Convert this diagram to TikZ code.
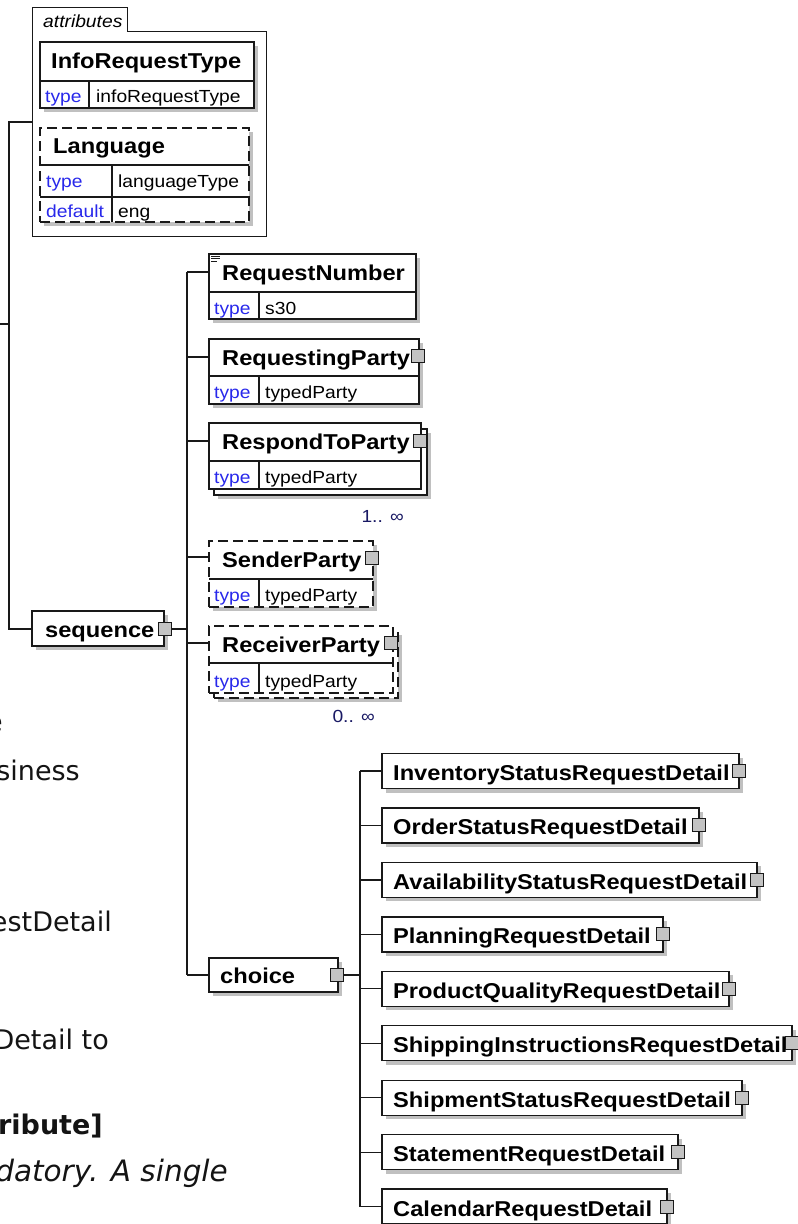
\documentclass[tikz,border=0pt]{standalone}
\usepackage{fontspec}
\usetikzlibrary{shadows}
\newfontfamily\lib[FakeStretch=1.1]{Liberation Sans}
\newfontfamily\dvs{DejaVu Sans}
\definecolor{lc}{RGB}{25,25,25}
\definecolor{shc}{RGB}{192,192,192}
\definecolor{tb}{RGB}{40,40,235}
\definecolor{nv}{RGB}{25,25,100}
\definecolor{icg}{RGB}{195,195,195}
\definecolor{bgt}{RGB}{20,20,20}
\newcommand\ttlf{\lib\bfseries\fontsize{21.5}{24}\selectfont}
\newcommand\smf{\lib\fontsize{17.5}{20}\selectfont}
\newcommand\bgf{\dvs\fontsize{27}{30}\selectfont}
\newcommand\bgif{\dvs\itshape\fontsize{29.5}{32}\selectfont}
\tikzset{
 el/.style={draw=lc, line width=1.3pt, fill=white, anchor=north west, inner sep=0pt, outer sep=0pt},
 shd/.style={drop shadow={shadow xshift=4pt, shadow yshift=-4pt, fill=shc, opacity=1}},
 opt/.style={dash pattern=on 10pt off 5pt},
 inl/.style={draw=lc, line width=1.2pt},
 ttl/.style={font=\ttlf, anchor=base west, inner sep=0pt, text=black},
 lbl/.style={font=\smf, text=tb, anchor=base west, inner sep=0pt},
 val/.style={font=\smf, text=black, anchor=base west, inner sep=0pt},
 icon/.style={draw=lc, fill=icg, line width=1pt, minimum size=13pt, inner sep=0pt, outer sep=0pt},
 conn/.style={draw=lc, line width=1.3pt},
 card/.style={font=\smf, text=nv, anchor=base east, inner sep=0pt},
 bg/.style={font=\bgf, text=bgt, anchor=base east, inner sep=0pt},
}
\begin{document}
\begin{tikzpicture}[x=1pt,y=-1pt]
\useasboundingbox (0,0) rectangle (798,1224);
\fill[white] (0,0) rectangle (798,1224);

% background text fragments
\begin{scope}
\clip (0,0) rectangle (300,1224);
\node[bg] (bg1) at (3,731) {e};
\node[bg] (bg2) at (80,780) {siness};
\node[bg] (bg3) at (112,931) {estDetail};
\node[bg] (bg4) at (109,1049) {Detail to};
\node[bg,font=\bgf\bfseries] (bg5) at (103,1134) {ribute]};
\node[bg,font=\bgif] (bg6) at (228,1181) {datory. A single};
\end{scope}

% attributes container
\node[minimum width=234, minimum height=229, anchor=north west, inner sep=0pt, outer sep=0pt] (attrs) at (32,7) {};
\draw[line width=1pt, draw=lc] (attrs.south west) -- (attrs.north west) -- (127,7) -- (127,31) -- (266,31) -- (attrs.south east) -- cycle;
\node[font=\lib\itshape\fontsize{17.5}{20}\selectfont, anchor=base west, inner sep=0pt] (attrt) at (43,27) {attributes};

% InfoRequestType
\node[el,shd,minimum width=214,minimum height=66] (irt) at (40,42) {};
\draw[inl] (40,81) -- (254,81) (89,81) -- (89,108);
\node[ttl] (irtt) at (51,68) {InfoRequestType};
\node[lbl] (irtl) at (45,102) {type};
\node[val] (irtv) at (96,102) {infoRequestType};

% Language
\node[el,shd,opt,minimum width=209,minimum height=94] (lang) at (40,128) {};
\draw[inl] (40,165) -- (249,165) (40,197) -- (249,197) (112,165) -- (112,222);
\node[ttl] (langt) at (53,153) {Language};
\node[lbl] (langl1) at (46,187) {type};
\node[val] (langv1) at (118,187) {languageType};
\node[lbl] (langl2) at (46,217) {default};
\node[val] (langv2) at (118,217) {eng};

% sequence
\node[el,shd,minimum width=132,minimum height=35] (seq) at (32,611) {};
\node[ttl] (seqt) at (45,637) {sequence};
\node[icon] (seqi) at (164.5,629) {};

% root connector
\coordinate (j0) at (0,324);
\coordinate (j1) at (9,122);
\coordinate (j2) at (9,629);
\draw[conn] (attrs.west |- j1) -- (j1) -- (j2) -- (j2 -| seq.west);
\draw[conn] (j0) -- (j0 -| j1);

% RequestNumber
\node[el,shd,minimum width=207,minimum height=65] (rn) at (209,254) {};
\draw[inl] (209,292) -- (416,292) (259,292) -- (259,319);
\draw[line width=1pt, lc] (211,256) -- (220,256) (211,258.5) -- (220,258.5) (211,261) -- (217,261);
\node[ttl] (rnt) at (222,280) {RequestNumber};
\node[lbl] (rnl) at (214,314) {type};
\node[val] (rnv) at (265,314) {s30};

% RequestingParty
\node[el,shd,minimum width=210,minimum height=65] (rp) at (209,339) {};
\draw[inl] (209,376) -- (419,376) (259,376) -- (259,404);
\node[ttl] (rpt) at (222,365) {RequestingParty};
\node[lbl] (rpl) at (214,398) {type};
\node[val] (rpv) at (265,398) {typedParty};
\node[icon] (rpi) at (418,356) {};

% RespondToParty
\node[el,shd,minimum width=213,minimum height=66] (rtpb) at (214,429) {};
\node[el,minimum width=212,minimum height=66] (rtp) at (209,423) {};
\draw[inl] (209,461) -- (421,461) (259,461) -- (259,489);
\node[ttl] (rtpt) at (222,449) {RespondToParty};
\node[lbl] (rtpl) at (214,483) {type};
\node[val] (rtpv) at (265,483) {typedParty};
\node[icon] (rtpi) at (420,441) {};
\node[card] (rtpc) at (404,522) {1.. ∞};

% SenderParty
\node[el,shd,opt,minimum width=164,minimum height=66] (sp) at (209,541) {};
\draw[inl] (209,579) -- (373,579) (259,579) -- (259,607);
\node[ttl] (spt) at (222,567) {SenderParty};
\node[lbl] (spl) at (214,601) {type};
\node[val] (spv) at (265,601) {typedParty};
\node[icon] (spi) at (372,558) {};

% ReceiverParty
\node[el,shd,opt,minimum width=184,minimum height=67] (rcpb) at (214,631) {};
\node[el,opt,minimum width=184,minimum height=67] (rcp) at (209,626) {};
\draw[inl] (209,663) -- (393,663) (259,663) -- (259,693);
\node[ttl] (rcpt) at (222,652) {ReceiverParty};
\node[lbl] (rcpl) at (214,687) {type};
\node[val] (rcpv) at (265,687) {typedParty};
\node[icon] (rcpi) at (391,643) {};
\node[card] (rcpc) at (375,722) {0.. ∞};

% choice
\node[el,shd,minimum width=129,minimum height=34] (ch) at (209,958) {};
\node[ttl] (cht) at (220,983) {choice};
\node[icon] (chi) at (336.5,975) {};

% sequence bus
\coordinate (m1) at (187,272);
\coordinate (m2) at (187,357);
\coordinate (m3) at (187,441);
\coordinate (m4) at (187,557);
\coordinate (m5) at (187,643);
\coordinate (m6) at (187,975);
\draw[conn] (m1) -- (m6);
\draw[conn] (seqi.east) -- (seqi.east -| m1);
\draw[conn] (m1) -- (m1 -| rn.west);
\draw[conn] (m2) -- (m2 -| rp.west);
\draw[conn] (m3) -- (m3 -| rtp.west);
\draw[conn] (m4) -- (m4 -| sp.west);
\draw[conn] (m5) -- (m5 -| rcp.west);
\draw[conn] (m6) -- (m6 -| ch.west);

% choice children
\foreach \w/\t [count=\i] in {357/InventoryStatusRequestDetail, 317/OrderStatusRequestDetail, 375/AvailabilityStatusRequestDetail, 281/PlanningRequestDetail, 347/ProductQualityRequestDetail, 410/ShippingInstructionsRequestDetail, 360/ShipmentStatusRequestDetail, 296/StatementRequestDetail, 285/CalendarRequestDetail} {
  \pgfmathsetmacro\cy{771+(\i-1)*54.45}
  \node[el,shd,minimum width=\w,minimum height=35] (k\i) at (382,{\cy-17.5}) {};
  \node[ttl] (kt\i) at (393,{\cy+9.5}) {\t};
  \node[icon] (ki\i) at (k\i.east) {};
  \coordinate (cb\i) at (360,\cy);
  \draw[conn] (cb\i) -- (k\i.west);
}
\draw[conn] (cb1) -- (cb9);
\draw[conn] (chi.east) -- (chi.east -| cb1);
\end{tikzpicture}
\end{document}
